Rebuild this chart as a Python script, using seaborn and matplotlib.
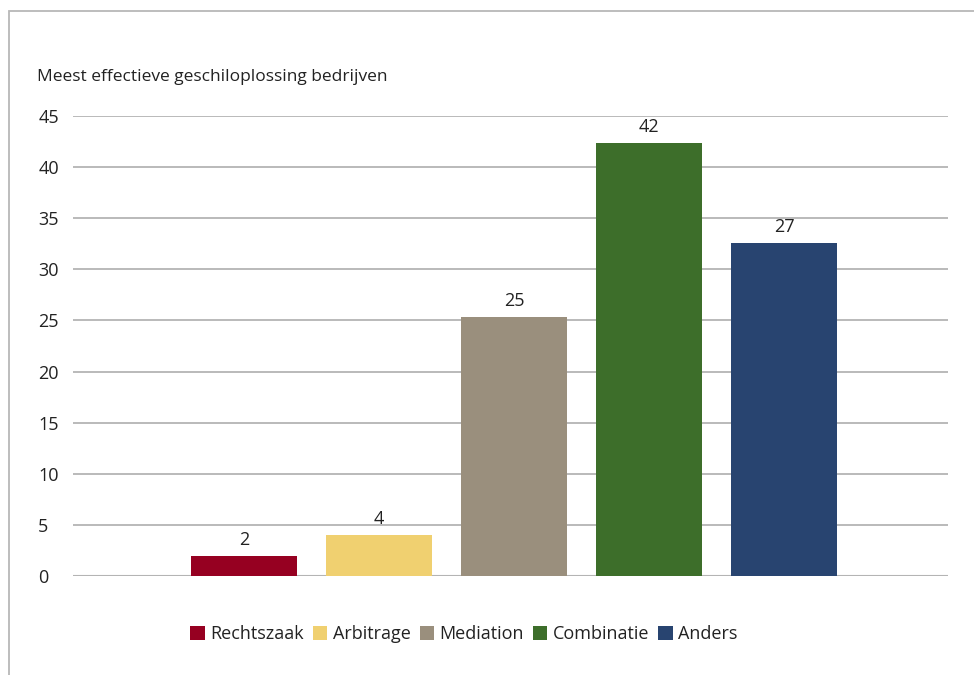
import matplotlib
matplotlib.use("Agg")
import matplotlib.pyplot as plt
from matplotlib.patches import Patch, Rectangle
import seaborn as sns

categories = ["Rechtszaak", "Arbitrage", "Mediation", "Combinatie", "Anders"]
heights = [2, 4, 25.3, 42.4, 32.6]
value_labels = ["2", "4", "25", "42", "27"]
colors = ["#960021", "#f0d070", "#9a8f7d", "#3d6e2a", "#284470"]
yticks = [0, 5, 10, 15, 20, 25, 30, 35, 40, 45]
title = "Meest effectieve geschiloplossing bedrijven"

TEXT = "#222222"
GRID = "#b4b4b4"

sns.set_theme(style="white")
plt.rcParams["font.family"] = ["Open Sans", "DejaVu Sans"]

fig = plt.figure(figsize=(9.74, 6.75), dpi=100)
ax = fig.add_axes([73 / 974, 1 - 576 / 675, (948 - 73) / 974, (576 - 116) / 675])

sns.barplot(x=categories, y=heights, hue=categories, palette=colors,
            width=0.785, saturation=1, linewidth=0, legend=False, ax=ax)

for patch, lab in zip(ax.patches, value_labels):
    ax.annotate(lab, (patch.get_x() + patch.get_width() / 2, patch.get_height()),
                xytext=(0, 5), textcoords="offset points", ha="center", va="bottom",
                fontsize=13, color=TEXT)

ax.set_xlim(-1.267, 5.215)
ax.set_ylim(0, 45)
ax.set_yticks(yticks)
ax.set_xticks([])
ax.set_xlabel("")
ax.set_ylabel("")
ax.yaxis.grid(True, color=GRID, linewidth=1.3)
ax.set_axisbelow(True)
for s in ax.spines.values():
    s.set_visible(False)
ax.tick_params(axis="y", length=0, pad=25, labelsize=13, labelcolor=TEXT)
for t in ax.get_yticklabels():
    t.set_horizontalalignment("left")
ax.axhline(0, color=GRID, linewidth=1.5, zorder=0.5)

fig.text(37 / 974, 1 - 77 / 675, title, fontsize=12.5, color=TEXT, va="center", ha="left")

handles = [Patch(facecolor=c, edgecolor="none", label=n) for c, n in zip(colors, categories)]
fig.legend(handles=handles, loc="center", bbox_to_anchor=(464 / 974, 1 - 634 / 675),
           ncol=5, frameon=False, fontsize=13, handlelength=0.8, handleheight=0.8,
           handletextpad=0.3, columnspacing=0.5, labelcolor=TEXT)

fig.add_artist(Rectangle((9 / 974, -0.1), 1.2, 1 - 11 / 675 + 0.1, transform=fig.transFigure,
                         facecolor="none", edgecolor="#b8b8b8", linewidth=1.3))

fig.savefig("out.png", dpi=100, facecolor="white")
